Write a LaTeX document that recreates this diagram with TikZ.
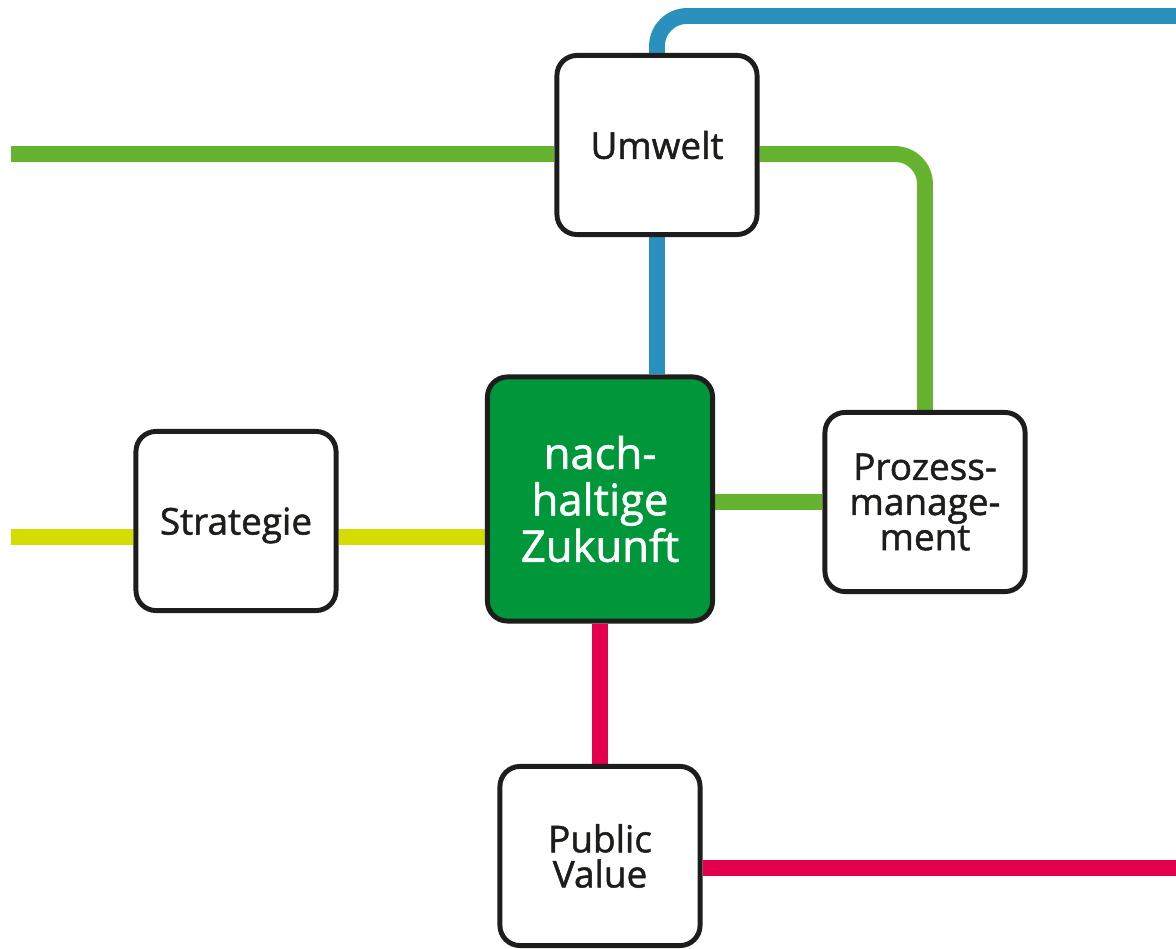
\documentclass[tikz,border=0pt]{standalone}
\usepackage{fontspec}
\setmainfont{Open Sans}
\newfontfamily\stationfont{Open Sans}[FakeBold=1.3]
\usetikzlibrary{backgrounds}
\definecolor{linegreen}{HTML}{65B32E}
\definecolor{lineblue}{HTML}{2A91BF}
\definecolor{lineyellow}{HTML}{D4DC00}
\definecolor{linered}{HTML}{E5004D}
\definecolor{boxgreen}{HTML}{00963A}
\definecolor{boxborder}{HTML}{1D1D1B}

\begin{document}
\begin{tikzpicture}[x=0.01cm, y=-0.01cm,
    station/.style={draw=boxborder, line width=1.4pt, rounded corners=0.2cm, fill=white,
        text=boxborder, align=center, minimum width=2cm, minimum height=1.79cm, inner sep=0pt,
        font=\stationfont\fontsize{10.5}{10}\selectfont},
    track/.style={line width=4.5pt, rounded corners=0.3cm}]

                % stations
                \node[station] (umwelt) at (657,145) {Umwelt};
                \node[station, fill=boxgreen, text=white, minimum width=2.25cm, minimum height=2.44cm,
                    font=\stationfont\fontsize{12.4}{13.2}\selectfont] (zukunft) at (600,499) {nach-\\haltige\\Zukunft};
                \node[station, text depth=0pt] (strategie) at (236,521) {Strategie};
                \node[station] (prozess) at (925,502) {Prozess-\\manage-\\ment};
                \node[station] (public) at (600,856) {Public\\Value};

                % open line ends
                \coordinate (bluestart) at (1176,16);
                \coordinate (greenstart) at (11,154);
                \coordinate (yellowstart) at (11,537);
                \coordinate (redend) at (1176,868);

                \begin{scope}[on background layer]
                \fill[white] (0,0) rectangle (1176,947);
                \useasboundingbox (0,0) rectangle (1176,947);

                % blue
                \draw[track, color=lineblue] (umwelt.north) |- (bluestart);
                \draw[track, color=lineblue] (umwelt.south) -- (umwelt.south |- zukunft.north);

                % green
                \draw[track, color=linegreen] (greenstart) -- (greenstart -| umwelt.west);
                \draw[track, color=linegreen] (umwelt.east |- greenstart) -| (prozess.north);
                \draw[track, color=linegreen] (zukunft.east |- prozess.west) -- (prozess.west);

                % yellow
                \draw[track, color=lineyellow] (yellowstart) -- (yellowstart -| strategie.west);
                \draw[track, color=lineyellow] (strategie.east |- yellowstart) -- (zukunft.west |- yellowstart);

                % red
                \draw[track, color=linered] (zukunft.south) -- (public.north);
                \draw[track, color=linered] (public.east |- redend) -- (redend);
                \end{scope}

            \end{tikzpicture}
\end{document}
